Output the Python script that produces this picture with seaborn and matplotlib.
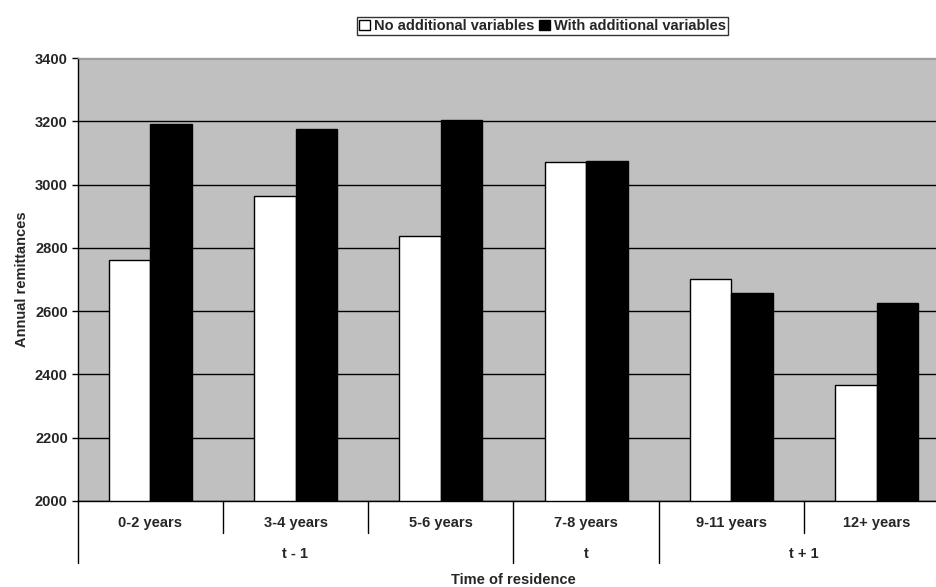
import numpy as np
import pandas as pd
import matplotlib
matplotlib.use("Agg")
import matplotlib.pyplot as plt
import matplotlib.transforms as mtransforms
import seaborn as sns

# values
categories = ["0-2 years", "3-4 years", "5-6 years", "7-8 years", "9-11 years", "12+ years"]
no_additional = [2762, 2965, 2838, 3072, 2703, 2368]
with_additional = [3190, 3175, 3203, 3073, 2656, 2627]
series_names = ["No additional variables", "With additional variables"]
groups = ["t - 1", "t", "t + 1"]
group_sizes = [3, 1, 2]
yticks = [2000, 2200, 2400, 2600, 2800, 3000, 3200, 3400]

df = pd.DataFrame({
    "cat": categories * 2,
    "value": no_additional + with_additional,
    "series": [series_names[0]] * 6 + [series_names[1]] * 6,
})

sns.set_style("white")
plt.rcParams["font.family"] = ["Liberation Sans", "DejaVu Sans"]
plt.rcParams["font.weight"] = "bold"
fs = 10.5

fig = plt.figure(figsize=(9.37, 5.87), dpi=100)
ax = fig.add_axes([77.5 / 937, 1 - 501 / 587, 872 / 937, 443 / 587])
ax.set_facecolor("#C0C0C0")

sns.barplot(data=df, x="cat", y="value", hue="series", order=categories,
            hue_order=series_names, palette=["white", "black"],
            edgecolor="black", linewidth=1.0, width=2 / 3.5, gap=0,
            ax=ax, legend=True)

ax.set_ylim(2000, 3400)
ax.set_xlim(-0.5, len(categories) - 0.5)
ax.set_yticks(yticks)
ax.set_yticklabels([str(v) for v in yticks], fontsize=fs, fontweight="bold")
ax.yaxis.grid(True, color="black", linewidth=1.0)
ax.set_axisbelow(True)
ax.tick_params(axis="y", direction="out", length=4, width=1, color="black", left=True, pad=3)
ax.tick_params(axis="x", bottom=False, labelbottom=False)

for s in ["top", "right"]:
    ax.spines[s].set_color("#A0A0A0")
    ax.spines[s].set_linewidth(1.0)
for s in ["left", "bottom"]:
    ax.spines[s].set_color("black")
    ax.spines[s].set_linewidth(1.0)

ax.set_ylabel("Annual remittances", fontsize=fs, fontweight="bold", labelpad=4)
ax.set_xlabel("")

# two-level category axis drawn below the plot
trans = mtransforms.blended_transform_factory(ax.transData, ax.transAxes)
group_edges = np.cumsum([0] + group_sizes) - 0.5
for i in range(len(categories) + 1):
    xb = i - 0.5
    low = -0.14 if xb in group_edges else -0.072
    ax.plot([xb, xb], [0, low], color="black", linewidth=1.0,
            transform=trans, clip_on=False)
for i, c in enumerate(categories):
    ax.text(i, -0.05, c, transform=trans, ha="center", va="center",
            fontsize=fs, fontweight="bold")
for g, a, b in zip(groups, group_edges[:-1], group_edges[1:]):
    ax.text((a + b) / 2, -0.12, g, transform=trans, ha="center", va="center",
            fontsize=fs, fontweight="bold")
ax.text(0.5, -0.178, "Time of residence", transform=ax.transAxes,
        ha="center", va="center", fontsize=fs, fontweight="bold")

handles, labels = ax.get_legend_handles_labels()
ax.get_legend().remove()
leg = fig.legend(handles, labels, loc="center", bbox_to_anchor=(542.5 / 937, 1 - 26 / 587),
                 ncol=2, frameon=True, fancybox=False, edgecolor="black",
                 handlelength=0.75, handleheight=0.75, handletextpad=0.25,
                 columnspacing=0.35, borderpad=0.12, borderaxespad=0,
                 prop={"size": fs, "weight": "bold"})
leg.get_frame().set_linewidth(1.0)

fig.savefig("out.png", dpi=100)
